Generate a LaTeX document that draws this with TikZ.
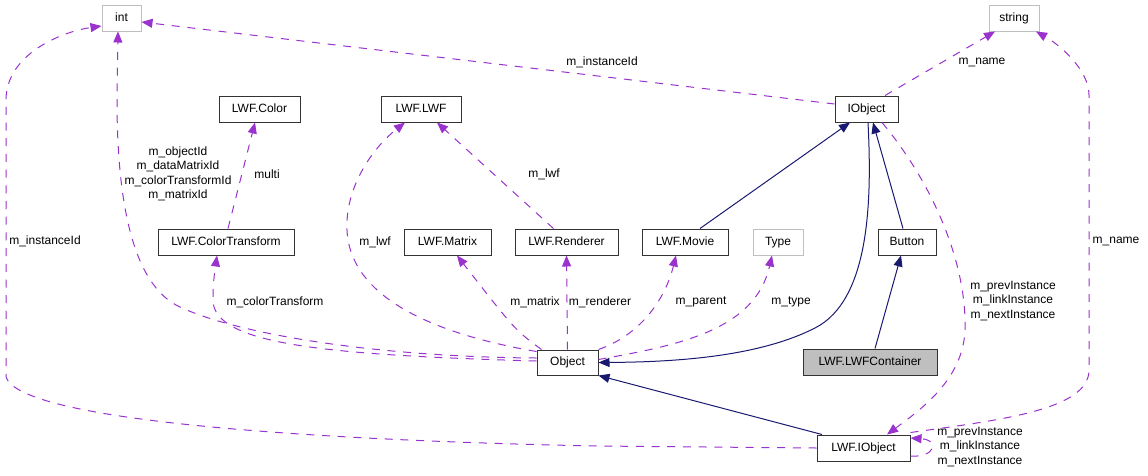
\documentclass[tikz,border=0pt]{standalone}
\usepackage{fontspec}
\setmainfont{Liberation Sans}
\usetikzlibrary{arrows.meta}

\definecolor{membro}{HTML}{9A32CD}
\definecolor{eredita}{HTML}{191970}
\definecolor{grigio}{HTML}{BFBFBF}

\tikzset{
  classe/.style={draw=black!80, line width=1pt, minimum height=26pt, inner sep=0pt,
    text height=9pt, text depth=2.5pt, font=\fontsize{12pt}{14.5pt}\selectfont},
  esterna/.style={classe, draw=grigio},
  corrente/.style={classe, fill=grigio},
  etichetta/.style={inner sep=0pt, align=center, font=\fontsize{12pt}{14.5pt}\selectfont},
  membro/.style={draw=membro, line width=1pt, dash pattern=on 8pt off 7.7pt,
    -{Triangle[length=11pt,width=9pt]}},
  eredita/.style={draw=eredita, line width=1pt, -{Triangle[length=11pt,width=9pt]}}
}

\begin{document}
\begin{tikzpicture}[x=1pt, y=-1pt]
  \useasboundingbox (0,0) rectangle (1148,475);

  % tipi esterni
  \node[esterna, minimum width=39pt] (IntT) at (121.5,18) {int};
  \node[esterna, minimum width=50pt] (StringT) at (1014,18) {string};
  \node[esterna, minimum width=50pt] (TypeT) at (778,242) {Type};

  % classi
  \node[classe, minimum width=81pt] (Color) at (259.5,109) {LWF.Color};
  \node[classe, minimum width=80pt] (Lwf) at (421,109) {LWF.LWF};
  \node[classe, minimum width=63pt] (IObject) at (866.5,109) {IObject};
  \node[classe, minimum width=136pt] (ColorTransform) at (226,242) {LWF.ColorTransform};
  \node[classe, minimum width=87pt] (Matrix) at (447.5,242) {LWF.Matrix};
  \node[classe, minimum width=103pt] (Renderer) at (566.5,242) {LWF.Renderer};
  \node[classe, minimum width=86pt] (Movie) at (685,242) {LWF.Movie};
  \node[classe, minimum width=58pt] (Button) at (907,242) {Button};
  \node[classe, minimum width=61pt, minimum height=25pt] (Object) at (567.5,362.5) {Object};
  \node[corrente, minimum width=134pt] (Container) at (870,362) {LWF.LWFContainer};
  \node[classe, minimum width=93pt] (LIObject) at (863.5,448) {LWF.IObject};

  % ereditarieta
  \draw[eredita] ([xshift=15pt]Movie.north) -- ([xshift=-16.5pt]IObject.south);
  \draw[eredita] ([xshift=-4pt]Button.north) -- ([xshift=6.5pt]IObject.south);
  \draw[eredita] ([xshift=5pt]Container.north) -- ([xshift=-6pt]Button.south);
  \draw[eredita] ([xshift=1.5pt]IObject.south) .. controls (872,200) and (870,300) .. (815,328)
    .. controls (760,356) and (680,362) .. (Object.east);
  \draw[eredita] ([xshift=-41.5pt]LIObject.north) -- (Object.south east);

  % membri
  \draw[membro] ([yshift=5pt]IObject.west) -- ([yshift=-4pt]IntT.east);
  \draw[membro] (LIObject.west) -- (597,446) .. controls (300,440) and (20,420) .. (6,377)
    -- (6,100) .. controls (6,55) and (60,32) .. ([yshift=-8pt]IntT.west);
  \draw[membro] ([yshift=4.5pt]Object.west) .. controls (380,357) and (240,335) .. (180,307)
    .. controls (132,285) and (117,200) .. (117,100) -- ([xshift=-3.5pt]IntT.south);
  \draw[membro] ([yshift=1.5pt]Object.west) .. controls (330,355) and (213,345) .. (213,300)
    .. controls (213,280) and (215,270) .. ([xshift=-9pt]ColorTransform.south);
  \draw[membro] ([yshift=-2pt]Object.north west) .. controls (440,335) and (350,300) .. (347,230)
    .. controls (345,190) and (370,150) .. ([xshift=-16pt]Lwf.south);
  \draw[membro] ([xshift=5pt]Object.north west) .. controls (515,330) .. ([xshift=9.5pt]Matrix.south);
  \draw[membro] (Object.north) -- (Renderer.south);
  \draw[membro] ([xshift=-13pt]Renderer.north) -- ([xshift=16pt]Lwf.south);
  \draw[membro] ([xshift=2pt]ColorTransform.north) -- ([xshift=-4.5pt]Color.south);
  \draw[membro] (Object.north east) .. controls (640,335) and (665,300) .. ([xshift=-9pt]Movie.south);
  \draw[membro] ([yshift=3pt]Object.east) .. controls (680,345) and (755,330) .. ([xshift=-6pt]TypeT.south);
  \draw[membro] ([xshift=15.5pt]IObject.south) .. controls (930,180) and (967,260) .. (965,330)
    .. controls (963,380) and (920,410) .. ([xshift=23.5pt]LIObject.north);
  \draw[membro] ([yshift=2pt]LIObject.north east) .. controls (1000,420) and (1089,410) .. (1089,370)
    -- (1089,95) .. controls (1089,70) and (1060,45) .. ([xshift=22pt]StringT.south);
  \draw[membro] ([xshift=18.5pt]IObject.north) -- ([xshift=-19pt]StringT.south);
  \draw[membro] ([yshift=-8pt]LIObject.east) .. controls (935,458) and (940,440) .. ([yshift=10pt]LIObject.east);

  % etichette
  \node[etichetta] (lInstTop) at (602,62) {m\_instanceId};
  \node[etichetta] (lInstLeft) at (45,241) {m\_instanceId};
  \node[etichetta] (lIds) at (178,174) {m\_objectId\\m\_dataMatrixId\\m\_colorTransformId\\m\_matrixId};
  \node[etichetta] (lMulti) at (267,174) {multi};
  \node[etichetta] (lColT) at (275,302) {m\_colorTransform};
  \node[etichetta] (lLwfA) at (375,242) {m\_lwf};
  \node[etichetta] (lLwfB) at (544,174) {m\_lwf};
  \node[etichetta] (lMatrix) at (535,302) {m\_matrix};
  \node[etichetta] (lRend) at (600,302) {m\_renderer};
  \node[etichetta] (lParent) at (701,302) {m\_parent};
  \node[etichetta] (lType) at (791,302) {m\_type};
  \node[etichetta] (lNameTop) at (982,62) {m\_name};
  \node[etichetta] (lNameRight) at (1116,241) {m\_name};
  \node[etichetta] (lInst) at (1013,301) {m\_prevInstance\\m\_linkInstance\\m\_nextInstance};
  \node[etichetta] (lSelf) at (980,447) {m\_prevInstance\\m\_linkInstance\\m\_nextInstance};
\end{tikzpicture}
\end{document}
